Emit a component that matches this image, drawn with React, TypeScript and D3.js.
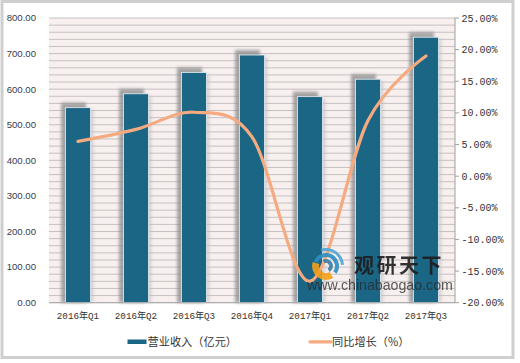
import React from 'react';
import * as d3 from 'd3';

const categories = ['2016年Q1', '2016年Q2', '2016年Q3', '2016年Q4', '2017年Q1', '2017年Q2', '2017年Q3'];
const revenue = [548, 587, 647, 696, 579, 628, 746];
const growth = [5.5, 7.4, 10.1, 6.2, -16.6, 8.8, 19.0];
const leftTicks = [0, 100, 200, 300, 400, 500, 600, 700, 800];
const rightTicks = [-20, -15, -10, -5, 0, 5, 10, 15, 20, 25];
const legendLabels = ['营业收入（亿元）', '同比增长（%）'];

const W = 520, H = 363;
const plot = { left: 49, right: 455, top: 18, bottom: 302.7 };
const BAR = '#1b6585';
const LINE = '#f5aa80';

export default function App() {
  const x = d3.scaleBand<string>().domain(categories).range([plot.left, plot.right]).paddingInner(0).paddingOuter(0);
  const yL = d3.scaleLinear().domain([0, 800]).range([plot.bottom, plot.top]);
  const yR = d3.scaleLinear().domain([-20, 25]).range([plot.bottom, plot.top]);
  const barW = 25;
  const minor = d3.range(0, 801, 20);
  const line = d3.line<number>()
    .x((_, i) => (x(categories[i]) as number) + x.bandwidth() / 2)
    .y(d => yR(d))
    .curve(d3.curveCardinal.tension(0));
  const lp = line(growth) as string;

  const logoArc = d3.arc();
  const cx = 326, cy = 266;

  return (
    <svg width={W} height={H} style={{ position: 'absolute', left: 0, top: 0, background: '#fff' }}>
      <defs>
        <filter id="blur" x="-50%" y="-50%" width="200%" height="200%">
          <feGaussianBlur stdDeviation="1.4" />
        </filter>
      </defs>
      <rect x={2} y={1.5} width={511} height={356} fill="#fff" stroke="#cfcfcf" strokeWidth={3} />
      <rect x={plot.left} y={plot.top} width={plot.right - plot.left} height={plot.bottom - plot.top} fill="#f8efef" />
      {minor.map(v => (
        <line key={v} x1={plot.left} x2={plot.right} y1={yL(v)} y2={yL(v)} stroke="#c7c1c1" strokeWidth={1} />
      ))}
      {revenue.map((v, i) => {
        const bx = (x(categories[i]) as number) + (x.bandwidth() - barW) / 2;
        const by = yL(v);
        const bh = plot.bottom - by;
        return (
          <g key={i}>
            <rect x={bx + 3} y={by + 2} width={barW} height={bh - 2} fill="#bdbdbd" opacity={0.55} filter="url(#blur)" />
            <rect x={bx - 4.5} y={by - 5} width={barW} height={bh + 5} fill="#8a8a8a" opacity={0.75} filter="url(#blur)" />
            <rect x={bx} y={by} width={barW} height={bh} fill={BAR} stroke="#e8eef2" strokeWidth={0.8} />
          </g>
        );
      })}
      <line x1={plot.left} x2={plot.right} y1={plot.bottom} y2={plot.bottom} stroke="#a8a8a8" />
      <path d={lp} fill="none" stroke={LINE} strokeWidth={3.2} strokeLinecap="round" />
      <line x1={plot.right} x2={plot.right} y1={plot.top} y2={plot.bottom} stroke="#a0a0a0" />
      {rightTicks.map(t => (
        <g key={t}>
          <line x1={plot.right} x2={plot.right + 4} y1={yR(t)} y2={yR(t)} stroke="#a0a0a0" />
          <text x={461.5} y={yR(t)} dy="0.35em" fontFamily="Liberation Mono" fontSize={10} fill="#333">
            {t.toFixed(2) + '%'}
          </text>
        </g>
      ))}
      {leftTicks.map(t => (
        <text key={t} x={36} y={yL(t)} dy="0.35em" textAnchor="end" fontFamily="Liberation Sans" fontSize={9.6} fill="#3a3a4a">
          {t.toFixed(2)}
        </text>
      ))}
      {categories.map(c => (
        <text key={c} x={(x(c) as number) + x.bandwidth() / 2} y={319} textAnchor="middle" fontFamily="Liberation Mono, Noto Sans CJK SC" fontSize={9.2} fill="#333">
          {c}
        </text>
      ))}
      {/* legend */}
      <rect x={127.5} y={339.5} width={19} height={4.5} fill={BAR} />
      <text x={147.5} y={345.6} fontFamily="Noto Sans CJK SC" fontSize={11.2} fill="#333">{legendLabels[0]}</text>
      <line x1={310} x2={331} y1={341.8} y2={341.8} stroke={LINE} strokeWidth={3.2} strokeLinecap="round" />
      <text x={332} y={345.6} fontFamily="Noto Sans CJK SC" fontSize={11.2} fill="#333">{legendLabels[1]}</text>
      {/* watermark */}
      <g opacity={0.9}>
        <path transform={`translate(${cx},${cy})`} d={logoArc({ innerRadius: 9, outerRadius: 13, startAngle: -1.2, endAngle: 2.2 } as any) as string} fill="#2a8fc4" />
        <path transform={`translate(${cx},${cy})`} d={logoArc({ innerRadius: 3, outerRadius: 7, startAngle: -0.5, endAngle: 2.6 } as any) as string} fill="#3a7ea8" />
        <path transform={`translate(${cx},${cy})`} d={logoArc({ innerRadius: 7, outerRadius: 14, startAngle: 2.6, endAngle: 5.0 } as any) as string} fill="#f5a01c" />
        <path transform={`translate(${cx},${cy})`} d={logoArc({ innerRadius: 15, outerRadius: 18, startAngle: -0.3, endAngle: 1.5 } as any) as string} fill="#4aa6d6" />
        <text x={354} y={272.5} fontFamily="Noto Sans CJK SC" fontWeight={700} fontSize={20} letterSpacing={2.5} fill="#1e1e1e">观研天下</text>
        <text x={307} y={290} fontFamily="Liberation Sans" fontSize={14.2} fill="#2a2a2a" opacity={0.85}>www.chinabaogao.com</text>
      </g>
    </svg>
  );
}
